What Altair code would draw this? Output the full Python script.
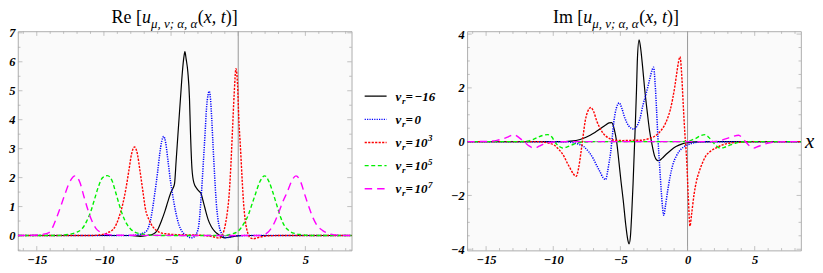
import altair as alt
import pandas as pd

# ---------------- data ----------------
X_DOMAIN = [-16.4, 8.45]
RE_Y_DOMAIN = [-0.52, 7.05]
IM_Y_DOMAIN = [-4.05, 4.1]

X_TICK_LABELS = [-15, -10, -5, 0, 5]
X_MINOR_TICKS = [-16, -14, -13, -12, -11, -9, -8, -7, -6, -4, -3, -2, -1, 1, 2, 3, 4, 6, 7, 8]
RE_Y_TICK_LABELS = [0, 1, 2, 3, 4, 5, 6, 7]
RE_Y_MINOR_TICKS = [-0.5, 0.5, 1.5, 2.5, 3.5, 4.5, 5.5, 6.5]
IM_Y_TICK_LABELS = [-4, -2, 0, 2, 4]
IM_Y_MINOR_TICKS = [-3.5, -3, -2.5, -1.5, -1, -0.5, 0.5, 1, 1.5, 2.5, 3, 3.5]

SERIES_NAMES = ["nu=-16", "nu=0", "nu=1e3", "nu=1e5", "nu=1e7"]
LEGEND_MAIN = ["\u221216", "0", "10", "10", "10"]
LEGEND_SUP = ["", "", "3", "5", "7"]

# Re part
re_black_x = [-16.4, -8.0, -7.3, -6.8, -6.32, -6.0, -5.72, -5.45, -5.24, -5.0, -4.85, -4.74, -4.62, -4.47, -4.3, -4.16, -4.05, -3.97, -3.88, -3.75, -3.63, -3.56, -3.44, -3.3, -3.08, -2.9, -2.77, -2.62, -2.48, -2.24, -2.0, -1.75, -1.52, -1.25, -1.0, -0.7, -0.3, 0.3, 8.45]
re_black_y = [0, 0, -0.03, 0.0, 0.05, 0.2, 0.5, 0.85, 1.17, 1.5, 1.64, 1.8, 2.6, 3.62, 4.74, 5.64, 6.15, 6.35, 6.1, 5.64, 4.74, 3.62, 2.28, 1.82, 1.62, 1.52, 1.45, 1.2, 0.95, 0.55, 0.3, 0.14, 0.05, -0.04, -0.08, -0.06, -0.03, 0, 0]

re_blue_x = [-16.4, -8.0, -7.5, -7.1, -6.8, -6.5, -6.2, -6.0, -5.84, -5.7, -5.55, -5.4, -5.24, -5.05, -4.88, -4.65, -4.4, -4.15, -3.92, -3.65, -3.44, -3.2, -2.96, -2.78, -2.6, -2.46, -2.36, -2.25, -2.16, -2.06, -1.97, -1.87, -1.75, -1.64, -1.52, -1.4, -1.2, -1.04, -0.8, -0.5, 0.0, 1.0, 8.45]
re_blue_y = [0, 0, 0.03, 0.08, 0.17, 0.6, 1.5, 2.2, 2.84, 3.25, 3.42, 3.2, 2.62, 1.9, 1.39, 0.8, 0.35, 0.12, 0.02, -0.06, -0.08, 0.0, 0.28, 1.2, 2.5, 3.6, 4.4, 4.85, 4.98, 4.7, 4.0, 3.06, 2.0, 1.17, 0.6, 0.28, 0.04, -0.06, -0.07, -0.03, -0.01, 0, 0]

re_red_x = [-16.4, -11.0, -10.2, -9.7, -9.2, -8.9, -8.61, -8.35, -8.13, -7.95, -7.72, -7.5, -7.33, -7.12, -6.92, -6.6, -6.32, -5.9, -5.4, -4.5, -3.5, -2.5, -1.8, -1.4, -1.15, -0.95, -0.8, -0.68, -0.55, -0.43, -0.3, -0.17, -0.05, 0.04, 0.17, 0.29, 0.4, 0.53, 0.7, 0.85, 1.13, 1.5, 2.0, 3.0, 8.45]
re_red_y = [0, 0, 0.03, 0.1, 0.28, 0.6, 1.06, 1.65, 2.28, 2.8, 3.06, 2.8, 2.28, 1.6, 0.95, 0.5, 0.28, 0.12, 0.06, 0.03, 0.02, 0.0, -0.05, -0.09, 0.05, 0.4, 0.85, 1.39, 2.4, 3.62, 4.9, 5.76, 5.2, 4.07, 3.0, 1.95, 1.1, 0.5, 0.1, -0.06, -0.11, -0.07, -0.02, 0, 0]

re_green_x = [-16.4, -13.5, -12.6, -12.1, -11.6, -11.3, -11.0, -10.7, -10.4, -10.1, -9.74, -9.4, -9.1, -8.85, -8.6, -8.3, -8.0, -7.7, -7.3, -6.8, -6.0, -1.0, -0.5, 0.05, 0.4, 0.76, 1.0, 1.25, 1.6, 1.97, 2.3, 2.57, 2.87, 3.17, 3.45, 3.77, 4.2, 4.7, 5.5, 8.45]
re_green_y = [0, 0, 0.04, 0.1, 0.25, 0.48, 0.8, 1.25, 1.7, 2.0, 2.07, 1.9, 1.45, 1.05, 0.7, 0.4, 0.22, 0.12, 0.06, 0.03, 0, 0, 0.05, 0.17, 0.4, 0.72, 1.05, 1.39, 1.85, 2.06, 1.85, 1.5, 1.05, 0.61, 0.33, 0.17, 0.07, 0.03, 0, 0]

re_magenta_x = [-16.4, -15.0, -14.6, -14.13, -13.8, -13.53, -13.2, -12.93, -12.6, -12.14, -11.8, -11.49, -11.2, -10.89, -10.6, -10.29, -9.8, -9.0, 1.5, 2.0, 2.33, 2.7, 3.05, 3.35, 3.65, 4.0, 4.3, 4.65, 4.97, 5.25, 5.57, 5.9, 6.29, 6.9, 7.5, 8.45]
re_magenta_y = [0, 0.02, 0.04, 0.09, 0.3, 0.61, 1.03, 1.39, 1.8, 2.06, 1.85, 1.35, 0.9, 0.5, 0.25, 0.12, 0.04, 0.01, 0, 0.05, 0.17, 0.45, 0.84, 1.2, 1.5, 1.9, 2.06, 1.85, 1.39, 1.0, 0.61, 0.33, 0.17, 0.05, 0.01, 0]

# Im part
im_black_x = [-16.4, -9.5, -8.7, -8.0, -7.25, -6.9, -6.52, -6.1, -5.85, -5.65, -5.45, -5.28, -5.1, -4.95, -4.79, -4.6, -4.45, -4.35, -4.25, -4.15, -4.06, -3.97, -3.88, -3.8, -3.73, -3.61, -3.5, -3.35, -3.19, -3.0, -2.83, -2.65, -2.46, -2.3, -2.14, -1.9, -1.59, -1.2, -0.86, -0.4, 0.0, 0.8, 2.0, 8.45]
im_black_y = [0, 0, 0.02, 0.08, 0.24, 0.34, 0.47, 0.62, 0.7, 0.71, 0.45, 0.0, -0.8, -1.5, -2.18, -3.1, -3.65, -3.8, -3.5, -2.6, -1.59, -0.4, 0.77, 1.95, 3.12, 3.79, 3.5, 2.8, 1.94, 1.1, 0.41, -0.1, -0.53, -0.68, -0.71, -0.62, -0.47, -0.3, -0.18, -0.08, -0.04, -0.01, 0, 0]

im_blue_x = [-16.4, -9.0, -8.7, -8.2, -7.74, -7.35, -7.0, -6.75, -6.52, -6.3, -6.1, -5.95, -5.85, -5.73, -5.6, -5.48, -5.3, -5.09, -4.9, -4.67, -4.4, -4.2, -4.0, -3.8, -3.55, -3.32, -3.05, -2.83, -2.65, -2.53, -2.42, -2.31, -2.21, -2.08, -1.96, -1.86, -1.77, -1.65, -1.48, -1.3, -1.11, -0.85, -0.61, -0.3, 0.0, 0.5, 1.1, 8.45]
im_blue_y = [0, 0, -0.02, -0.08, -0.18, -0.38, -0.65, -0.9, -1.12, -1.33, -1.41, -1.1, -0.8, -0.41, 0.2, 0.77, 1.25, 1.44, 1.25, 0.88, 0.6, 0.5, 0.47, 0.55, 0.85, 1.36, 1.85, 2.3, 2.65, 2.77, 2.2, 1.2, 0.18, -0.9, -1.82, -2.45, -2.74, -2.4, -1.82, -1.3, -0.88, -0.55, -0.35, -0.2, -0.12, -0.04, 0, 0]

im_red_x = [-16.4, -11.0, -10.7, -9.96, -9.6, -9.22, -8.95, -8.73, -8.5, -8.29, -8.12, -7.94, -7.78, -7.62, -7.45, -7.2, -6.98, -6.76, -6.5, -6.27, -5.9, -5.53, -4.8, -4.06, -3.56, -2.83, -2.45, -2.09, -1.75, -1.48, -1.28, -1.11, -0.95, -0.81, -0.68, -0.56, -0.45, -0.32, -0.2, -0.07, 0.05, 0.18, 0.3, 0.49, 0.65, 0.86, 1.1, 1.36, 1.7, 2.1, 2.6, 3.08, 4.0, 5.0, 8.45]
im_red_y = [0, 0, -0.02, -0.12, -0.28, -0.53, -0.8, -1.0, -1.2, -1.29, -1.0, -0.41, 0.2, 0.77, 1.1, 1.27, 1.1, 0.77, 0.48, 0.3, 0.14, 0.06, 0.04, 0.05, 0.05, 0.12, 0.2, 0.35, 0.58, 0.88, 1.2, 1.59, 2.05, 2.53, 2.95, 3.16, 2.6, 1.36, 0.3, -0.65, -2.0, -3.14, -2.7, -1.94, -1.5, -1.12, -0.8, -0.53, -0.36, -0.24, -0.12, -0.06, -0.02, 0, 0]

im_green_x = [-16.4, -12.5, -11.93, -11.55, -11.19, -10.8, -10.42, -10.1, -9.84, -9.55, -9.28, -9.0, -8.6, -8.2, -7.9, -7.0, -0.5, 0.0, 0.3, 0.62, 0.95, 1.31, 1.6, 1.85, 2.15, 2.46, 2.8, 3.2, 3.6, 4.0, 5.0, 8.45]
im_green_y = [0, 0, 0.02, 0.07, 0.15, 0.23, 0.26, 0.17, -0.04, -0.18, -0.24, -0.2, -0.12, -0.05, -0.02, 0, 0, 0.01, 0.06, 0.12, 0.22, 0.26, 0.15, 0.0, -0.16, -0.24, -0.2, -0.12, -0.05, -0.01, 0, 0]

im_magenta_x = [-16.4, -15.0, -14.63, -14.2, -13.77, -13.35, -12.92, -12.55, -12.18, -11.8, -11.44, -11.05, -10.7, -10.3, -9.96, -9.0, 1.5, 2.1, 2.5, 2.95, 3.4, 3.81, 4.05, 4.31, 4.6, 4.92, 5.3, 5.79, 6.2, 6.64, 7.5, 8.45]
im_magenta_y = [0, 0.01, 0.02, 0.05, 0.1, 0.18, 0.26, 0.15, 0.0, -0.16, -0.24, -0.17, -0.08, -0.03, -0.01, 0, 0, 0.01, 0.05, 0.12, 0.2, 0.24, 0.15, 0.0, -0.15, -0.24, -0.17, -0.08, -0.03, -0.01, 0, 0]

# ---------------- style ----------------
COLORS = ["#000000", "#0000ff", "#ff0000", "#00f000", "#ff00ff"]
DASHES = [[1, 0], [1.2, 1.2], [2.2, 1.3], [4, 2.6], [7.5, 5]]
WIDTHS = [1.2, 1.5, 1.4, 1.4, 1.4]
FONT = "Liberation Serif"
W, H, LEG_W = 335, 220, 87
FRAME = "#9a9a9a"
TICK = "#a8a8a8"
AXIS_LINE = "#8c8c8c"
LEGEND_ROWS_Y = [65, 158]


def one():
    return pd.DataFrame({"k": [0]})


def panel(curves, ydom, ylabels, yminor, word, title_x0, x_label):
    xs = alt.Scale(domain=X_DOMAIN, nice=False, zero=False)
    ys = alt.Scale(domain=ydom, nice=False, zero=False)
    xa = alt.Axis(values=X_TICK_LABELS, title=None, grid=False, domain=False, ticks=False,
                  labelPadding=3, format="d", labelFlush=False)
    ya = alt.Axis(values=ylabels, title=None, grid=False, domain=False, ticks=False,
                  labelPadding=3, format="d", labelFlush=False)

    def X(f):
        return alt.X(f + ":Q", scale=xs, axis=xa)

    def Y(f):
        return alt.Y(f + ":Q", scale=ys, axis=ya)

    layers = []
    # axes through the origin
    layers.append(alt.Chart(pd.DataFrame({"x": [0]})).mark_rule(color=AXIS_LINE, strokeWidth=0.9).encode(x=X("x")))
    layers.append(alt.Chart(pd.DataFrame({"y": [0]})).mark_rule(color=AXIS_LINE, strokeWidth=0.9).encode(y=Y("y")))
    # frame ticks (inside)
    for vals, L in ((X_TICK_LABELS, 4.5), (X_MINOR_TICKS, 2.5)):
        base = alt.Chart(pd.DataFrame({"x": vals})).mark_rule(color=TICK, strokeWidth=0.7)
        layers.append(base.encode(x=X("x"), y=alt.value(H), y2=alt.value(H - L)))
        layers.append(base.encode(x=X("x"), y=alt.value(0), y2=alt.value(L)))
    for vals, L in ((ylabels, 4.5), (yminor, 2.5)):
        base = alt.Chart(pd.DataFrame({"y": vals})).mark_rule(color=TICK, strokeWidth=0.7)
        layers.append(base.encode(y=Y("y"), x=alt.value(0), x2=alt.value(L)))
        layers.append(base.encode(y=Y("y"), x=alt.value(W), x2=alt.value(W - L)))
    # curves
    for i, (cx, cy) in enumerate(curves):
        kw = dict(color=COLORS[i], strokeWidth=WIDTHS[i], interpolate="monotone", clip=True)
        if i > 0:
            kw["strokeDash"] = DASHES[i]
        layers.append(alt.Chart(pd.DataFrame({"x": cx, "y": cy})).mark_line(**kw).encode(x=X("x"), y=Y("y")))
    # title, composed of pieces
    pieces = [
        (word + " [", 0, "normal", 18, 0),
        ("u", 30.5, "italic", 18, 0),
        ("\u03bc, \u03bd; \u03b1, \u03b1", 39.5, "italic", 13, 5),
        ("(", 86.5, "normal", 18, 0),
        ("x, t", 92.5, "italic", 18, 0),
        (")]", 114.5, "normal", 18, 0),
    ]
    for txt, dx, style, size, dy in pieces:
        layers.append(alt.Chart(one()).mark_text(text=txt, align="left", baseline="alphabetic", font=FONT,
                                                  fontSize=size, fontStyle=style, color="black", dy=dy)
                      .encode(x=alt.value(title_x0 + dx), y=alt.value(-8)))
    if x_label:
        layers.append(alt.Chart(pd.DataFrame({"y": [0]})).mark_text(text="x", align="left", baseline="middle",
                                                                     font=FONT, fontSize=21, fontStyle="italic",
                                                                     color="black")
                      .encode(x=alt.value(W + 4), y=Y("y")))
    return alt.layer(*layers).properties(width=W, height=H)


re_curves = [(re_black_x, re_black_y), (re_blue_x, re_blue_y), (re_red_x, re_red_y),
             (re_green_x, re_green_y), (re_magenta_x, re_magenta_y)]
im_curves = [(im_black_x, im_black_y), (im_blue_x, im_blue_y), (im_red_x, im_red_y),
             (im_green_x, im_green_y), (im_magenta_x, im_magenta_y)]

left = panel(re_curves, RE_Y_DOMAIN, RE_Y_TICK_LABELS, RE_Y_MINOR_TICKS, "Re", 94, False)
right = panel(im_curves, IM_Y_DOMAIN, IM_Y_TICK_LABELS, IM_Y_MINOR_TICKS, "Im", 86, True)

# ---------------- legend ----------------
leg_df = pd.DataFrame({"idx": list(range(5)), "name": SERIES_NAMES, "main": LEGEND_MAIN, "sup": LEGEND_SUP})
ly = alt.Y("idx:Q", scale=alt.Scale(domain=[0, 4], range=LEGEND_ROWS_Y), axis=None)
leg_base = alt.Chart(leg_df)
leg_lines = leg_base.mark_rule().encode(
    x=alt.value(7), x2=alt.value(29), y=ly,
    color=alt.Color("name:N", scale=alt.Scale(domain=SERIES_NAMES, range=COLORS), legend=None),
    strokeDash=alt.StrokeDash("name:N", scale=alt.Scale(domain=SERIES_NAMES, range=DASHES), legend=None),
    strokeWidth=alt.StrokeWidth("name:N", scale=alt.Scale(domain=SERIES_NAMES, range=WIDTHS), legend=None),
)
tstyle = dict(font=FONT, fontStyle="italic", fontWeight="bold", color="black", align="left", baseline="alphabetic")
leg_nu = leg_base.mark_text(text="\u03bd", fontSize=13, dy=4.5, **tstyle).encode(x=alt.value(38), y=ly)
leg_r = leg_base.mark_text(text="r", fontSize=9, dy=7.5, **tstyle).encode(x=alt.value(44.5), y=ly)
leg_eq = leg_base.mark_text(text="=", fontSize=13, dy=4.5, **tstyle).encode(x=alt.value(48), y=ly)
leg_main = leg_base.mark_text(fontSize=13, dy=4.5, **tstyle).encode(x=alt.value(57), y=ly, text="main:N")
leg_sup = leg_base.mark_text(fontSize=9, dy=-1, **tstyle).encode(x=alt.value(70.5), y=ly, text="sup:N")
legend = alt.layer(leg_lines, leg_nu, leg_r, leg_eq, leg_main, leg_sup).properties(
    width=LEG_W, height=H, view=alt.ViewBackground(fill="white", stroke="transparent"))

chart = alt.hconcat(left, legend, right, spacing=4).properties(padding=0).configure_view(
    fill="#fafafa", stroke=FRAME, strokeWidth=0.8
).configure_axis(
    labelFont=FONT, labelFontStyle="italic", labelFontWeight="bold", labelFontSize=12.5, labelColor="black"
)

chart.save("out.html", embed_options={"renderer": "svg", "actions": False})
